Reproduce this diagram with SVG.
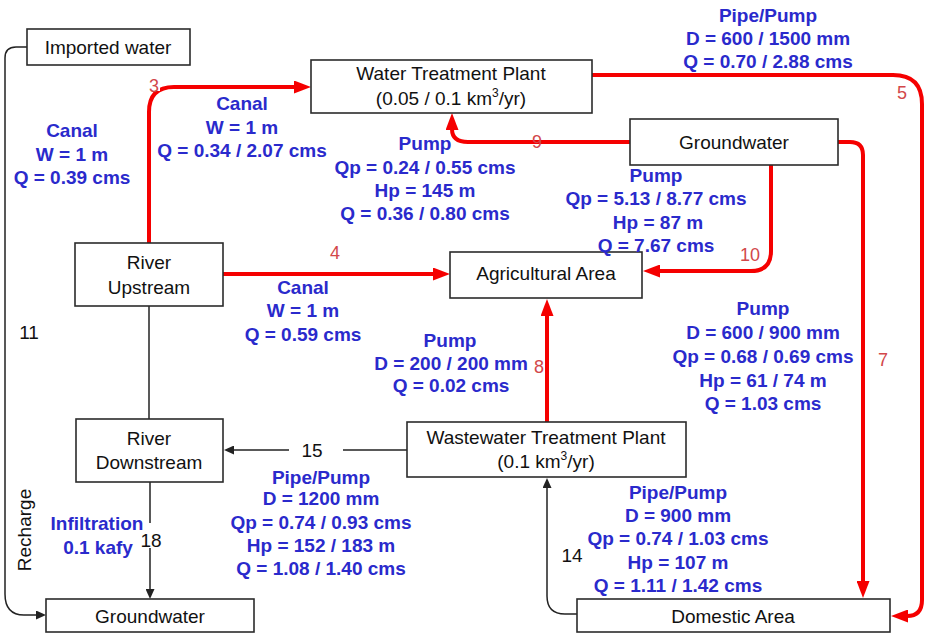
<svg xmlns="http://www.w3.org/2000/svg" width="927" height="633" viewBox="0 0 927 633">
<style>
.box{fill:#fff;stroke:#2b2b2b;stroke-width:1.6}
.t{font-family:"Liberation Sans",Arial,sans-serif;font-size:19px;fill:#111;text-anchor:middle}
.b{font-family:"Liberation Sans",Arial,sans-serif;font-size:19px;font-weight:bold;fill:#2a2acc;text-anchor:middle}
.n{font-family:"Liberation Sans",Arial,sans-serif;font-size:18px;fill:#d2474a;text-anchor:middle}
.red{fill:none;stroke:#f50000;stroke-width:4}
.blk{fill:none;stroke:#222;stroke-width:1.5}
.bg{fill:#fff}
</style>
<defs>
<marker id="ra" markerUnits="userSpaceOnUse" markerWidth="17" markerHeight="13" refX="1" refY="6.5" orient="auto"><path d="M0,0 L17,6.5 L0,13 z" fill="#f50000"/></marker>
<marker id="ba" markerUnits="userSpaceOnUse" markerWidth="10" markerHeight="9" refX="1" refY="4.5" orient="auto"><path d="M0,0 L10,4.5 L0,9 z" fill="#222"/></marker>
</defs>
<rect width="927" height="633" fill="#fff"/>
<g id="connectors">
<path class="red" d="M149,243 V112 Q149,87 174,87 H295" marker-end="url(#ra)"/>
<path class="red" d="M223,274 H434" marker-end="url(#ra)"/>
<path class="red" d="M592,75 H893 Q922,75 922,104 V600 Q922,616 907,616" marker-end="url(#ra)"/>
<path class="red" d="M630,142 H468 Q452,142 452,129" marker-end="url(#ra)"/>
<path class="red" d="M771,165 V251 Q771,271 751,271 H659" marker-end="url(#ra)"/>
<path class="red" d="M838,142 H850 Q863,142 863,155 V582" marker-end="url(#ra)"/>
<path class="red" d="M547,422 V315" marker-end="url(#ra)"/>
<path class="blk" d="M27,47 H16 Q5,47 5,58 V594 Q5,615 24,615 H37" marker-end="url(#ba)"/>
<path class="blk" d="M149,306 V419"/>
<path class="blk" d="M407,450 H233" marker-end="url(#ba)"/>
<path class="blk" d="M150,482 V590" marker-end="url(#ba)"/>
<path class="blk" d="M577,614 H565 Q547,614 547,596 V487" marker-end="url(#ba)"/>
<rect class="bg" x="532" y="356" width="13" height="23"/>
<rect class="bg" x="289" y="441" width="54" height="18"/>
<rect class="bg" x="142" y="523" width="19" height="25"/>
<rect class="bg" x="147" y="79" width="13" height="12"/>
<rect class="bg" x="531" y="136" width="12" height="4"/>
</g>
<g id="imported-water"><rect class="box" x="27" y="29" width="163" height="36"/><text class="t" x="108" y="54">Imported water</text></g>
<g id="water-treatment-plant"><rect class="box" x="311" y="60" width="281" height="53"/><text class="t" x="451" y="80">Water Treatment Plant</text><text class="t" x="451" y="105">(0.05 / 0.1 km<tspan font-size="12" dy="-8">3</tspan><tspan dy="8">/yr)</tspan></text></g>
<g id="groundwater-top"><rect class="box" x="630" y="119" width="208" height="46"/><text class="t" x="734" y="149">Groundwater</text></g>
<g id="river-upstream"><rect class="box" x="75" y="243" width="148" height="63"/><text class="t" x="149" y="269">River</text><text class="t" x="149" y="294">Upstream</text></g>
<g id="agricultural-area"><rect class="box" x="450" y="252" width="192" height="46"/><text class="t" x="546" y="280">Agricultural Area</text></g>
<g id="river-downstream"><rect class="box" x="76" y="419" width="147" height="63"/><text class="t" x="149" y="445">River</text><text class="t" x="149" y="469">Downstream</text></g>
<g id="wastewater-treatment-plant"><rect class="box" x="407" y="422" width="279" height="55"/><text class="t" x="546" y="444">Wastewater Treatment Plant</text><text class="t" x="546" y="468">(0.1 km<tspan font-size="12" dy="-8">3</tspan><tspan dy="8">/yr)</tspan></text></g>
<g id="groundwater-bottom"><rect class="box" x="46" y="599" width="208" height="33"/><text class="t" x="150" y="623">Groundwater</text></g>
<g id="domestic-area"><rect class="box" x="577" y="599" width="313" height="33"/><text class="t" x="733" y="623">Domestic Area</text></g>
<g id="labels">
<text class="n" x="154" y="92">3</text>
<text class="n" x="902" y="99">5</text>
<text class="n" x="537" y="148">9</text>
<text class="n" x="750" y="261">10</text>
<text class="n" x="335" y="259">4</text>
<text class="n" x="539" y="373">8</text>
<text class="n" x="883" y="366">7</text>
<text class="t" x="29" y="339">11</text>
<text class="t" x="312" y="457">15</text>
<text class="t" x="151" y="547">18</text>
<text class="t" x="572" y="562">14</text>
<text class="t" transform="translate(31,530) rotate(-90)">Recharge</text>
<text class="b" x="768" y="22">Pipe/Pump</text>
<text class="b" x="768" y="45">D = 600 / 1500 mm</text>
<text class="b" x="768" y="68">Q = 0.70 / 2.88 cms</text>
<text class="b" x="242" y="110">Canal</text>
<text class="b" x="242" y="134">W = 1 m</text>
<text class="b" x="242" y="157">Q = 0.34 / 2.07 cms</text>
<text class="b" x="72" y="137">Canal</text>
<text class="b" x="72" y="161">W = 1 m</text>
<text class="b" x="72" y="184">Q = 0.39 cms</text>
<text class="b" x="425" y="150">Pump</text>
<text class="b" x="425" y="174">Qp = 0.24 / 0.55 cms</text>
<text class="b" x="425" y="197">Hp = 145 m</text>
<text class="b" x="425" y="220">Q = 0.36 / 0.80 cms</text>
<text class="b" x="656" y="182">Pump</text>
<text class="b" x="656" y="205">Qp = 5.13 / 8.77 cms</text>
<text class="b" x="658" y="229">Hp = 87 m</text>
<text class="b" x="656" y="252">Q = 7.67 cms</text>
<text class="b" x="303" y="294">Canal</text>
<text class="b" x="303" y="317">W = 1 m</text>
<text class="b" x="303" y="341">Q = 0.59 cms</text>
<text class="b" x="450" y="347">Pump</text>
<text class="b" x="451" y="370">D = 200 / 200 mm</text>
<text class="b" x="451" y="392">Q = 0.02 cms</text>
<text class="b" x="763" y="315">Pump</text>
<text class="b" x="763" y="339">D = 600 / 900 mm</text>
<text class="b" x="763" y="363">Qp = 0.68 / 0.69 cms</text>
<text class="b" x="763" y="387">Hp = 61 / 74 m</text>
<text class="b" x="763" y="410">Q = 1.03 cms</text>
<text class="b" x="321" y="484">Pipe/Pump</text>
<text class="b" x="321" y="505">D = 1200 mm</text>
<text class="b" x="321" y="529">Qp = 0.74 / 0.93 cms</text>
<text class="b" x="321" y="552">Hp = 152 / 183 m</text>
<text class="b" x="321" y="575">Q = 1.08 / 1.40 cms</text>
<text class="b" x="97" y="530">Infiltration</text>
<text class="b" x="98" y="554">0.1 kafy</text>
<text class="b" x="678" y="499">Pipe/Pump</text>
<text class="b" x="678" y="522">D = 900 mm</text>
<text class="b" x="678" y="545">Qp = 0.74 / 1.03 cms</text>
<text class="b" x="678" y="569">Hp = 107 m</text>
<text class="b" x="678" y="592">Q = 1.11 / 1.42 cms</text>
</g>
</svg>
